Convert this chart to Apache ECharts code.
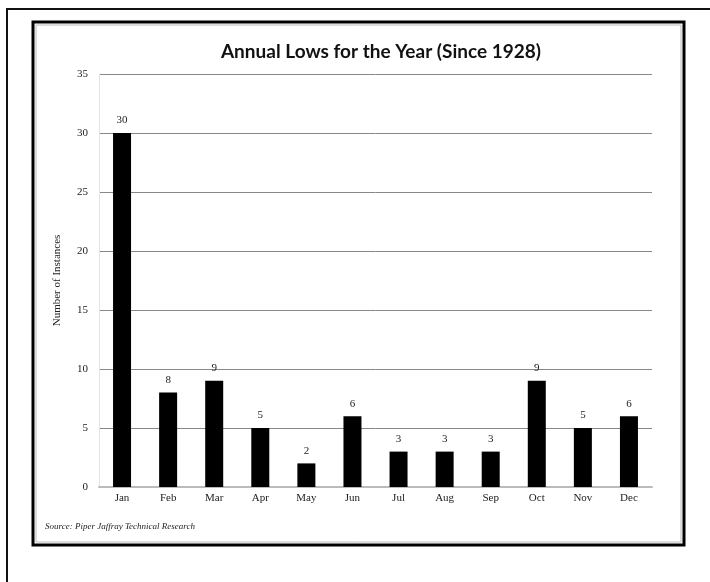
<!DOCTYPE html>
<html>
<head>
<meta charset="utf-8">
<script src="https://cdn.jsdelivr.net/npm/echarts@6/dist/echarts.min.js"></script>
<style>
html,body{margin:0;padding:0;background:#fff;}
#c{width:710px;height:582px;}
</style>
</head>
<body>
<div id="c"></div>
<script>
var categories = ['Jan','Feb','Mar','Apr','May','Jun','Jul','Aug','Sep','Oct','Nov','Dec'];
var instances = [30, 8, 9, 5, 2, 6, 3, 3, 3, 9, 5, 6];
var yTicks = [0, 5, 10, 15, 20, 25, 30, 35];

var serif = '"Liberation Serif", "DejaVu Serif", serif';
var chart = echarts.init(document.getElementById('c'));
chart.setOption({
  animation: false,
  backgroundColor: '#fff',
  title: {
    text: 'Annual Lows for the Year (Since 1928)',
    left: 376, top: 37, textAlign: 'center',
    textStyle: {fontFamily: 'Lato, "Open Sans", sans-serif', fontWeight: 'bold', fontSize: 19, color: '#111'}
  },
  grid: {left: 99, right: 58, top: 74, bottom: 95},
  xAxis: {
    type: 'category',
    data: categories,
    axisLine: {lineStyle: {color: '#bbb', width: 2}},
    axisTick: {show: false},
    axisLabel: {fontFamily: serif, fontSize: 11, color: '#222', margin: 6}
  },
  yAxis: {
    type: 'value',
    min: yTicks[0], max: yTicks[yTicks.length - 1], interval: 5,
    name: 'Number of Instances',
    nameLocation: 'middle', nameGap: 36, nameRotate: 90,
    nameTextStyle: {fontFamily: serif, fontSize: 11, color: '#222'},
    axisLine: {show: true, lineStyle: {color: '#e4e4e4', width: 1}},
    axisTick: {show: false},
    axisLabel: {fontFamily: serif, fontSize: 11, color: '#222', margin: 11},
    splitLine: {lineStyle: {color: '#888', width: 1}}
  },
  series: [{
    type: 'bar',
    data: instances,
    barWidth: 18,
    itemStyle: {color: '#000'},
    label: {show: true, position: 'top', distance: 7, fontFamily: serif, fontSize: 11, color: '#222'}
  }],
  graphic: [
    {type: 'rect', shape: {x: 7, y: 9, width: 720, height: 600}, style: {fill: null, stroke: '#111', lineWidth: 2}, z: -1},
    {type: 'rect', shape: {x: 33, y: 22, width: 651, height: 523}, style: {fill: null, stroke: '#000', lineWidth: 3}},
    {type: 'rect', shape: {x: 36, y: 25, width: 645, height: 517}, style: {fill: null, stroke: '#bbb', lineWidth: 1}},
    {type: 'text', left: 45, top: 522, style: {text: 'Source: Piper Jaffray Technical Research', font: 'italic 9px ' + serif, fill: '#222'}}
  ]
});
</script>
</body>
</html>
